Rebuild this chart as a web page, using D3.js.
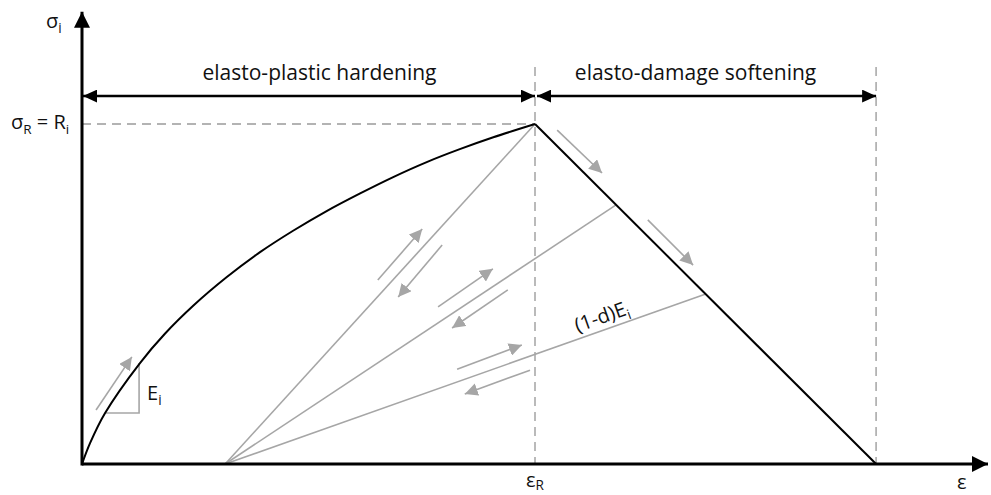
<!DOCTYPE html>
<html>
<head>
<meta charset="utf-8">
<script src="https://d3js.org/d3.v7.min.js"></script>
<style>
  body { margin: 0; background: #fff; }
  text { font-family: "Open Sans", Lato, sans-serif; fill: #111; }
</style>
</head>
<body>
<script>
// strain normalised by eps_R, stress normalised by R_i
var curveEps = [0, 0.018, 0.051, 0.128, 0.183, 0.246, 0.319, 0.393, 0.466, 0.540, 0.614, 0.687, 0.761, 0.834, 0.908, 1];
var curveSig = [0, 0.062, 0.150, 0.297, 0.383, 0.466, 0.549, 0.623, 0.686, 0.744, 0.796, 0.844, 0.888, 0.926, 0.961, 1];
var softEps = [1, 1.753];
var softSig = [1, 0];
var residualEps = 0.316;
var unloadEps = [1, 1.179, 1.377];
var unloadSig = [1, 0.762, 0.5];
var slopeTri = [[0.051, 0.150], [0.126, 0.150], [0.126, 0.297]];
// gray direction arrows: [eps1, sig1, eps2, sig2], head at the second point
var flowArrows = [
  [0.031, 0.159, 0.110, 0.315],
  [0.653, 0.541, 0.751, 0.691],
  [0.795, 0.644, 0.698, 0.491],
  [0.786, 0.462, 0.907, 0.574],
  [0.940, 0.512, 0.817, 0.400],
  [0.828, 0.279, 0.971, 0.350],
  [0.989, 0.276, 0.845, 0.206],
  [1.049, 0.982, 1.148, 0.856],
  [1.249, 0.718, 1.349, 0.585]
];
var zoneLabels = ["elasto-plastic hardening", "elasto-damage softening"];
var zoneBounds = [0, 1, 1.753];

var width = 991, height = 495;
var x = d3.scaleLinear().domain([0, 2]).range([82, 988]);
var y = d3.scaleLinear().domain([0, 1]).range([464, 124]);
var grey = "#a6a6a6";

var svg = d3.select("body").append("svg")
  .attr("width", width).attr("height", height);

var defs = svg.append("defs");
function marker(id, color, len, half) {
  defs.append("marker")
    .attr("id", id)
    .attr("markerUnits", "userSpaceOnUse")
    .attr("viewBox", "0 " + (-half) + " " + len + " " + (2 * half))
    .attr("refX", len).attr("refY", 0)
    .attr("markerWidth", len).attr("markerHeight", 2 * half)
    .attr("orient", "auto-start-reverse")
    .append("path")
      .attr("d", "M0," + (-half) + "L" + len + ",0L0," + half + "Z")
      .attr("fill", color);
}
marker("ghead", grey, 13, 6.5);
marker("bhead", "#000", 14, 6.5);
marker("axhead", "#000", 16, 8);

var line = d3.line().x(function(d) { return x(d[0]); }).y(function(d) { return y(d[1]); });

// dashed guides
var dash = svg.append("g").attr("stroke", "#b3b3b3").attr("stroke-width", 1.8)
  .attr("stroke-dasharray", "9,6").attr("fill", "none");
dash.append("line").attr("x1", x(0)).attr("x2", x(1)).attr("y1", y(1)).attr("y2", y(1));
[1, 1.753].forEach(function(e) {
  dash.append("line").attr("x1", x(e)).attr("x2", x(e)).attr("y1", y(1.168)).attr("y2", y(0));
});

// unloading / reloading lines
var gl = svg.append("g").attr("stroke", grey).attr("stroke-width", 1.6).attr("fill", "none");
unloadEps.forEach(function(e, i) {
  gl.append("line")
    .attr("x1", x(residualEps)).attr("y1", y(0))
    .attr("x2", x(e)).attr("y2", y(unloadSig[i]));
});
gl.append("path").attr("d", line(slopeTri));

flowArrows.forEach(function(a) {
  gl.append("line")
    .attr("x1", x(a[0])).attr("y1", y(a[1]))
    .attr("x2", x(a[2])).attr("y2", y(a[3]))
    .attr("marker-end", "url(#ghead)");
});

// hardening curve and softening branch
svg.append("path")
  .datum(curveEps.map(function(e, i) { return [e, curveSig[i]]; }))
  .attr("d", d3.line().x(function(d) { return x(d[0]); }).y(function(d) { return y(d[1]); })
    .curve(d3.curveCatmullRom.alpha(0.5)))
  .attr("fill", "none").attr("stroke", "#000").attr("stroke-width", 2);
svg.append("path")
  .datum(softEps.map(function(e, i) { return [e, softSig[i]]; }))
  .attr("d", line)
  .attr("fill", "none").attr("stroke", "#000").attr("stroke-width", 2);

// axes
svg.append("line").attr("x1", x(0)).attr("y1", y(0)).attr("x2", x(2)).attr("y2", y(0))
  .attr("stroke", "#000").attr("stroke-width", 3).attr("marker-end", "url(#axhead)");
svg.append("line").attr("x1", x(0)).attr("y1", y(0) + 1.5).attr("x2", x(0)).attr("y2", y(1.33))
  .attr("stroke", "#000").attr("stroke-width", 3).attr("marker-end", "url(#axhead)");

// zone dimension arrows
var dimY = y(1.082);
zoneLabels.forEach(function(lab, i) {
  var a = zoneBounds[i], b = zoneBounds[i + 1];
  svg.append("line")
    .attr("x1", x(a) + (i === 0 ? 1 : 2)).attr("x2", x(b)).attr("y1", dimY).attr("y2", dimY)
    .attr("stroke", "#000").attr("stroke-width", 2.5)
    .attr("marker-start", "url(#bhead)").attr("marker-end", "url(#bhead)");
  svg.append("text")
    .attr("x", (x(a) + x(b)) / 2 + (i === 0 ? 11 : -10)).attr("y", 80)
    .attr("text-anchor", "middle").attr("font-size", 21)
    .text(lab);
});

// labels
function sub(t, main, s, size, dy) {
  t.append("tspan").text(main);
  t.append("tspan").attr("font-size", size * 0.68).attr("dy", dy).text(s);
}
sub(svg.append("text").attr("x", 46).attr("y", 28).attr("font-size", 20), "σ", "i", 20, 5);
var sr = svg.append("text").attr("x", 11).attr("y", y(1) + 5).attr("font-size", 20);
sr.append("tspan").text("σ");
sr.append("tspan").attr("font-size", 13.5).attr("dy", 5).text("R");
sr.append("tspan").attr("dy", -5).text(" = R");
sr.append("tspan").attr("font-size", 13.5).attr("dy", 5).text("i");
sub(svg.append("text").attr("x", 147).attr("y", 400).attr("font-size", 20), "E", "i", 20, 5);
sub(svg.append("text").attr("x", x(1) - 9).attr("y", 487).attr("font-size", 20), "ε", "R", 20, 3);
svg.append("text").attr("x", 957).attr("y", 489).attr("font-size", 20).text("ε");

var ang = Math.atan2(y(unloadSig[2]) - y(0), x(unloadEps[2]) - x(residualEps)) * 180 / Math.PI;
var lt = svg.append("text").attr("font-size", 20).attr("text-anchor", "middle")
  .attr("transform", "translate(604,323) rotate(" + ang + ")");
sub(lt, "(1-d)E", "i", 20, 5);
</script>
</body>
</html>
